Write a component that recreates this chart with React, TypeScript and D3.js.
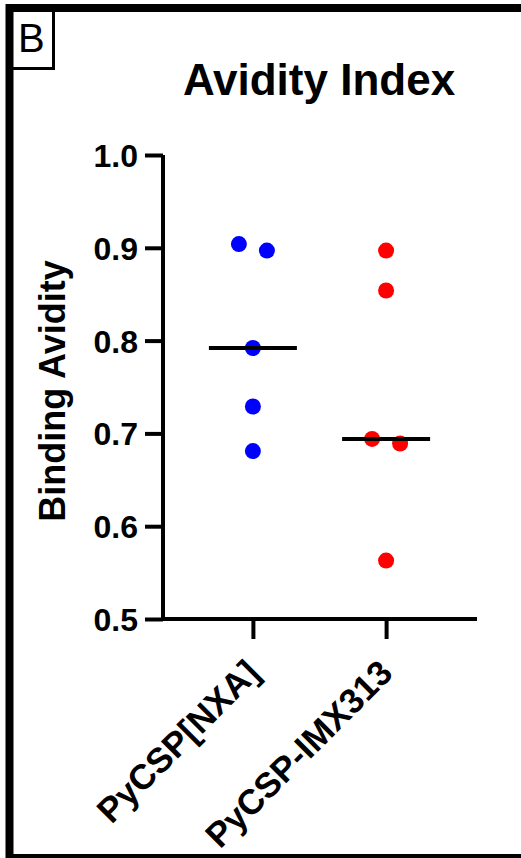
import React, { useEffect, useRef } from "react";
import * as d3 from "d3";

// data
const groups = ["PyCSP[NXA]", "PyCSP-IMX313"];
const nxaValues = [0.904, 0.897, 0.792, 0.729, 0.681];
const imxValues = [0.897, 0.854, 0.694, 0.689, 0.563];
const groupColors = ["#0000ff", "#ff0000"];
const yTicks = [0.5, 0.6, 0.7, 0.8, 0.9, 1.0];

const W = 521;
const H = 858;
const FONT = "'Liberation Sans', Arial, Helvetica, sans-serif";

export default function App() {
  const ref = useRef<SVGSVGElement | null>(null);

  useEffect(() => {
    document.documentElement.style.overflow = "hidden";
    document.body.style.margin = "0";

    const svg = d3.select(ref.current);
    svg.selectAll("*").remove();

    const left = 163, right = 476, top = 155, bottom = 619;
    const r = 8;

    const x = d3.scalePoint<string>().domain(groups).range([left, right]).padding(0.675);
    const y = d3.scaleLinear().domain([0.5, 1.0]).range([bottom, top]);

    // outer frame (open on the right, as cropped) + panel letter
    svg.append("path")
      .attr("d", `M${W + 20},8H9.5V858H${W + 20}`)
      .attr("fill", "none").attr("stroke", "#000").attr("stroke-width", 8);
    svg.append("rect")
      .attr("x", 9.5).attr("y", 8).attr("width", 44).attr("height", 60.5)
      .attr("fill", "none").attr("stroke", "#000").attr("stroke-width", 3);
    svg.append("text")
      .attr("x", 18).attr("y", 52)
      .style("font-family", FONT).style("font-size", "40px")
      .text("B");

    // title
    svg.append("text")
      .attr("x", 319).attr("y", 95)
      .attr("text-anchor", "middle")
      .style("font-family", FONT).style("font-size", "44px").style("font-weight", "bold")
      .text("Avidity Index");

    // y axis
    const yAxis = svg.append("g")
      .attr("transform", `translate(${left},0)`)
      .call(d3.axisLeft(y).tickValues(yTicks).tickFormat(d3.format(".1f")).tickSize(18).tickPadding(7));
    yAxis.select(".domain").attr("d", `M0,${top}V${bottom}`).attr("stroke-width", 4);
    yAxis.selectAll(".tick line").attr("stroke-width", 4);
    yAxis.selectAll(".tick text")
      .style("font-family", FONT).style("font-size", "32px").style("font-weight", "bold")
      .attr("dy", "0.36em");

    // x axis
    const xAxis = svg.append("g")
      .attr("transform", `translate(0,${bottom})`)
      .call(d3.axisBottom(x).tickSize(20).tickPadding(0));
    xAxis.select(".domain").attr("d", `M${left},0H${right + 1}`).attr("stroke-width", 4);
    xAxis.selectAll(".tick line").attr("stroke-width", 4);
    xAxis.selectAll(".tick text")
      .style("font-family", FONT).style("font-size", "35px").style("font-weight", "bold")
      .attr("text-anchor", "end")
      .attr("dy", null)
      .attr("y", null)
      .attr("transform", "translate(8,56) rotate(-45)");

    // y label
    svg.append("text")
      .attr("transform", "translate(65,391) rotate(-90)")
      .attr("text-anchor", "middle")
      .style("font-family", FONT).style("font-size", "36px").style("font-weight", "bold")
      .text("Binding Avidity");

    // scatter with simple spreading of overlapping points
    const series = [nxaValues, imxValues];
    series.forEach((vals, gi) => {
      const cx = x(groups[gi]) as number;
      const order = d3.range(vals.length).sort((a, b) => vals[b] - vals[a]);
      const offsets = new Array(vals.length).fill(0);
      let cluster: number[] = [];
      const flush = () => {
        cluster.forEach((idx, k) => {
          offsets[idx] = (k - (cluster.length - 1) / 2) * 28;
        });
        cluster = [];
      };
      order.forEach((idx) => {
        if (cluster.length && Math.abs(y(vals[idx]) - y(vals[cluster[cluster.length - 1]])) >= 2 * r) flush();
        cluster.push(idx);
      });
      flush();

      svg.append("g").selectAll("circle")
        .data(vals)
        .join("circle")
        .attr("cx", (d, i) => cx + offsets[i])
        .attr("cy", (d) => y(d))
        .attr("r", r)
        .attr("fill", groupColors[gi]);

      const med = d3.median(vals) as number;
      svg.append("line")
        .attr("x1", cx - 44).attr("x2", cx + 44)
        .attr("y1", y(med)).attr("y2", y(med))
        .attr("stroke", "#000").attr("stroke-width", 4);
    });
  }, []);

  return (
    <svg
      ref={ref}
      width={W}
      height={H}
      style={{ position: "absolute", left: 0, top: 0, background: "#fff", overflow: "hidden", display: "block" }}
    />
  );
}
